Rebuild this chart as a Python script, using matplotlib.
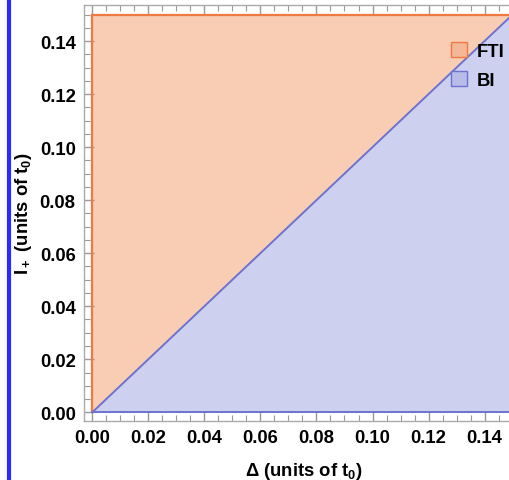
import matplotlib
matplotlib.use("Agg")
import matplotlib.pyplot as plt
from matplotlib.patches import Patch
from matplotlib.lines import Line2D
from matplotlib.ticker import MultipleLocator

plt.rcParams['font.family'] = ['Liberation Sans', 'DejaVu Sans']
plt.rcParams['mathtext.fontset'] = 'custom'
plt.rcParams['mathtext.rm'] = 'Liberation Sans'
plt.rcParams['mathtext.bf'] = 'Liberation Sans:bold'

# data: phase boundary I+ = Delta, region top at 0.15
delta = [0.0, 0.15]
boundary = [0.0, 0.15]
i_top = 0.15
i_bottom = 0.0
labels = ["FTI", "BI"]

orange_fill = '#f8cdb4'
orange_line = '#ee7a42'
blue_fill = '#cdd0ee'
blue_line = '#6c72cf'

W, H = 509, 481
fig = plt.figure(figsize=(W / 100, H / 100), dpi=100)
ax = fig.add_axes([84 / W, (H - 422) / H, (523 - 84) / W, (422 - 5.7) / H])

ax.fill_between(delta, boundary, i_top, color=orange_fill, lw=0)
ax.fill_between(delta, i_bottom, boundary, color=blue_fill, lw=0)
ax.plot(delta, [i_top, i_top], color=orange_line, lw=1.6)
ax.plot([0, 0], [i_bottom, i_top], color=orange_line, lw=1.6)
ax.plot(delta, boundary, color=blue_line, lw=1.4)
ax.plot(delta, [i_bottom, i_bottom], color=blue_line, lw=1.4)

ax.set_xlim(-0.00296, 0.1537)
ax.set_ylim(-0.00328, 0.1537)

ax.xaxis.set_major_locator(MultipleLocator(0.02))
ax.yaxis.set_major_locator(MultipleLocator(0.02))
ax.xaxis.set_minor_locator(MultipleLocator(0.005))
ax.yaxis.set_minor_locator(MultipleLocator(0.005))
ax.xaxis.set_major_formatter(plt.FormatStrFormatter('%.2f'))
ax.yaxis.set_major_formatter(plt.FormatStrFormatter('%.2f'))
ax.tick_params(which='both', direction='in', top=True, right=True, color='#999999')
ax.tick_params(which='major', length=7, width=1, labelsize=13.3, pad=6)
ax.tick_params(which='minor', length=4, width=0.8)
for lab in ax.get_xticklabels() + ax.get_yticklabels():
    lab.set_fontweight('bold')
for s in ax.spines.values():
    s.set_color('#aaaaaa')
    s.set_linewidth(1)

ax.set_xlabel(r"Δ (units of $\mathbf{t_0}$)", fontsize=13.3, fontweight='bold', labelpad=10)
ax.set_ylabel(r"$\mathbf{I_+}$ (units of $\mathbf{t_0}$)", fontsize=13.3, fontweight='bold', labelpad=4)

handles = [Patch(facecolor='#f4b897', edgecolor=orange_line, lw=1),
           Patch(facecolor='#b7bce9', edgecolor=blue_line, lw=1)]
leg = fig.legend(handles, labels, loc='upper left', bbox_to_anchor=(434 / W, 1 - 26 / H),
                 frameon=False, handlelength=0.9, handleheight=0.9, handletextpad=0.5,
                 labelspacing=0.6, prop={'size': 13.3, 'weight': 'bold'})

fig.add_artist(Line2D([8.5 / W, 8.5 / W], [0, 1], color='#2b2bff', lw=3, transform=fig.transFigure))

fig.savefig('out.png', dpi=100)
